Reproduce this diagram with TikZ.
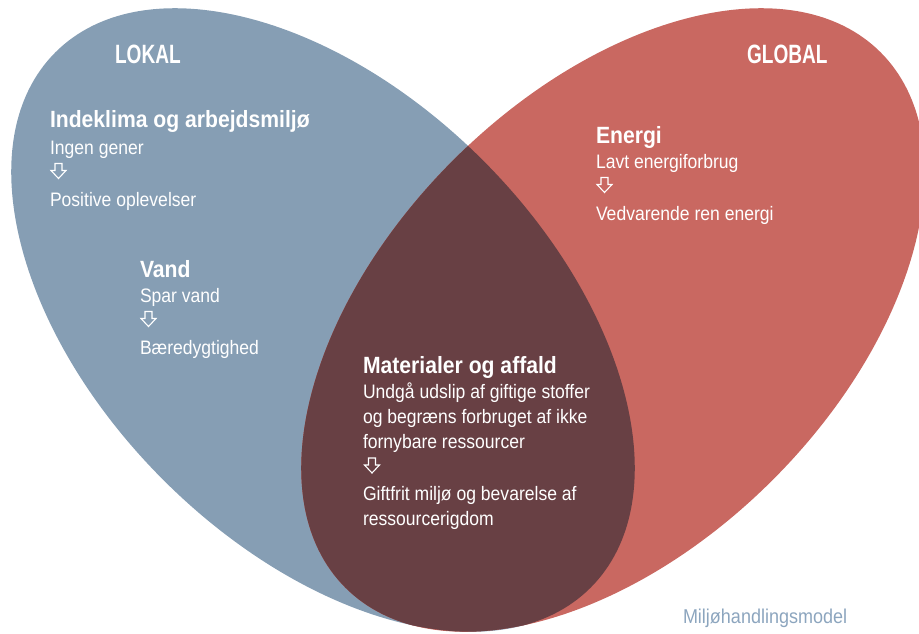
\documentclass[tikz,border=0pt]{standalone}
\usepackage{fontspec}
\setmainfont{Liberation Sans}[FakeStretch=0.9]
\newfontfamily\labelfont{Liberation Sans}[FakeStretch=0.72]
\definecolor{lokalblue}{RGB}{134,158,180}
\definecolor{globalred}{RGB}{201,104,97}
\definecolor{overlapred}{RGB}{104,64,68}
\definecolor{captionblue}{RGB}{140,165,190}
\begin{document}
\begin{tikzpicture}[x=1pt,y=-1pt,
  txt/.style={anchor=base west, inner sep=0pt, outer sep=0pt, text=white},
  areatitle/.style={txt, font=\labelfont\bfseries\fontsize{26.5}{30}\selectfont},
  heading/.style={txt, font=\bfseries\fontsize{23.5}{28}\selectfont},
  body/.style={txt, font=\fontsize{19.5}{25}\selectfont},
  caption/.style={anchor=base west, inner sep=0pt, outer sep=0pt, text=captionblue, font=\fontsize{20}{24}\selectfont},
  downarr/.pic={\draw[white, line width=1.1pt, line join=miter]
     (4.5,0.5) -- (11.5,0.5) -- (11.5,7.5) -- (15.5,7.5) -- (8,15.5) -- (0.5,7.5) -- (4.5,7.5) -- cycle;},
  lokalshape/.style={rotate around={-45:(323,320)}},
  globalshape/.style={rotate around={45:(613,320)}}
]
\useasboundingbox (0,0) rectangle (919,634);
\clip (0,0) rectangle (919,634);
% the two areas
\fill[lokalblue, lokalshape] (323,320) ellipse [x radius=378.5, y radius=226];
\fill[globalred, globalshape] (613,320) ellipse [x radius=378.5, y radius=226];
\begin{scope}
  \clip[lokalshape] (323,320) ellipse [x radius=378.5, y radius=226];
  \fill[overlapred, globalshape] (613,320) ellipse [x radius=378.5, y radius=226];
\end{scope}
% area titles
\node[areatitle] (lokal) at (115,64) {LOKAL};
\node[areatitle] (global) at (747,64) {GLOBAL};
% Indeklima
\node[heading] (indeklima) at (50,127) {Indeklima og arbejdsmiljø};
\node[body] (ingen) at (50,154) {Ingen gener};
\pic (arrA) at (50.5,163) {downarr};
\node[body] (positive) at (50,206) {Positive oplevelser};
% Vand
\node[heading] (vand) at (140,277) {Vand};
\node[body] (spar) at (140,302) {Spar vand};
\pic (arrB) at (140.5,311) {downarr};
\node[body] (baered) at (140,354) {Bæredygtighed};
% Energi
\node[heading] (energi) at (596,143) {Energi};
\node[body] (lavt) at (596,168) {Lavt energiforbrug};
\pic (arrC) at (596.5,177) {downarr};
\node[body] (vedvarende) at (596,220) {Vedvarende ren energi};
% Materialer
\node[heading] (materialer) at (363,373) {Materialer og affald};
\node[body] (undgaa) at (363,398) {Undgå udslip af giftige stoffer};
\node[body] (begraens) at (363,423) {og begræns forbruget af ikke};
\node[body] (fornybare) at (363,448) {fornybare ressourcer};
\pic (arrD) at (364,457.5) {downarr};
\node[body] (giftfrit) at (363,500) {Giftfrit miljø og bevarelse af};
\node[body] (rigdom) at (363,525) {ressourcerigdom};
% caption
\node[caption] (model) at (683,623) {Miljøhandlingsmodel};
\end{tikzpicture}
\end{document}
